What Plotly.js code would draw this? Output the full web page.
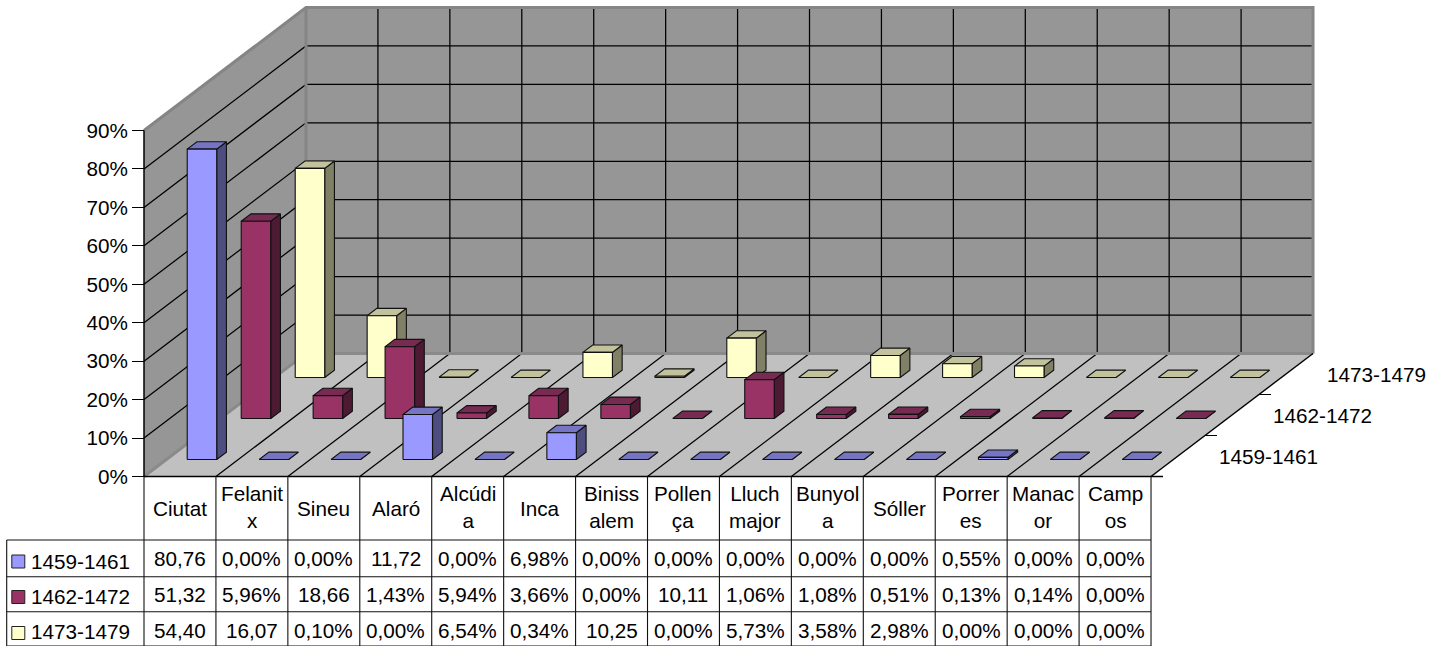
<!DOCTYPE html>
<html><head><meta charset="utf-8">
<script src="https://cdn.plot.ly/plotly-3.0.1.min.js"></script>
<style>html,body{margin:0;padding:0;background:#fff;overflow:hidden}</style>
</head><body><div id="chart" style="width:1444px;height:646px"></div>
<script>
const categories = ['Ciutat','Felanit<br>x','Sineu','Alaró','Alcúdi<br>a','Inca','Biniss<br>alem','Pollen<br>ça','Lluch<br>major','Bunyol<br>a','Sóller','Porrer<br>es','Manac<br>or','Camp<br>os'];
const seriesNames = ['1459-1461','1462-1472','1473-1479'];
const v1459 = [80.76,0,0,11.72,0,6.98,0,0,0,0,0,0.55,0,0];
const v1462 = [51.32,5.96,18.66,1.43,5.94,3.66,0,10.11,1.06,1.08,0.51,0.13,0.14,0];
const v1473 = [54.40,16.07,0.10,0,6.54,0.34,10.25,0,5.73,3.58,2.98,0,0,0];
const yTicks = [0,10,20,30,40,50,60,70,80,90];
const frontColors = ['#9999FF','#993366','#FFFFCC'];
const topColors = ['#7575C4','#772A52','#C2C29C'];
const sideColors = ['#4D4D80','#4D1A33','#808066'];

const W=1444,H=646,CW=71.93,VU=3.844,X0=144,Y0=476.5;
const DX=162/CW,DY=123/VU;
const allVals=[v1459,v1462,v1473];
const P=(c,d,v)=>[c+d*DX,v+d*DY];
const yOf=px=>(Y0-px)/VU, xOf=px=>(px-X0)/CW;
const traces=[];
function poly(pts,fill,line,width){
  traces.push({type:'scatter',mode:'lines',x:pts.map(p=>p?p[0]:null),y:pts.map(p=>p?p[1]:null),
    fill:fill?'toself':'none',fillcolor:fill||undefined,line:{color:line||'rgba(0,0,0,0)',width:width===undefined?1:width},
    hoverinfo:'skip',showlegend:false,connectgaps:false});
}
function seg(list,color,width){const pts=[];list.forEach(l=>{pts.push(...l,null)});poly(pts,null,color,width);}
// walls and floor
poly([P(0,0,0),P(0,1,0),P(0,1,90),P(0,0,90),P(0,0,0)],'#969696',null,0);
poly([P(0,1,0),P(14,1,0),P(14,1,90),P(0,1,90),P(0,1,0)],'#969696',null,0);
poly([P(0,0,0),P(14,0,0),P(14,1,0),P(0,1,0),P(0,0,0)],'#C0C0C0',null,0);
// gridlines
const hg=[],fg=[];
yTicks.slice(1,-1).forEach(t=>{hg.push([P(0,0,t),P(0,1,t),P(14,1,t)]);});
for(let k=1;k<14;k++){hg.push([P(k,1,0),P(k,1,90)]);fg.push([P(k,0,0),P(k,1,0)]);}
seg(hg.concat(fg),'#000',1.25);
// wall edges
seg([[P(0,0,90),P(0,1,90),P(14,1,90),P(14,1,0)],[P(0,1,0),P(0,1,90)]],'#858585',3);
seg([[P(0,0,0),P(0,1,0),P(14,1,0)]],'#8A8A8A',3);
// axes lines
seg([[P(0,0,0),P(0,0,90)],[P(0,0,0),P(14+12/CW,0,0)],[P(14,0,0),P(14,1,0)]],'#000',1.5);
seg([1/3,2/3].map(d=>[P(14,d,0),P(14+12/CW,d,0)]),'#000',1);
// bars, back to front
for(let s=2;s>=0;s--){
  const d0=0.138+s/3,d1=d0+0.06,side=[],top=[],front=[];
  allVals[s].forEach((v,i)=>{
    const a=i+0.29,b=a+0.41;
    side.push(P(b,d0,0),P(b,d1,0),P(b,d1,v),P(b,d0,v),P(b,d0,0),null);
    top.push(P(a,d0,v),P(b,d0,v),P(b,d1,v),P(a,d1,v),P(a,d0,v),null);
    front.push(P(a,d0,0),P(b,d0,0),P(b,d0,v),P(a,d0,v),P(a,d0,0),null);
  });
  poly(side,sideColors[s],'#111',1.1);
  poly(top,topColors[s],'#111',1.1);
  poly(front,frontColors[s],'#111',1.1);
}
// data table grid
const rows=[476.5,540,576.7,611.7,646];
const tg=[];
for(let k=0;k<=14;k++)tg.push([[k,yOf(476.5)],[k,yOf(646)]]);
tg.push([[xOf(6.7),yOf(540)],[xOf(6.7),yOf(646)]]);
rows.slice(1).forEach(r=>tg.push([[xOf(6.7),yOf(r)],[14,yOf(r)]]));
seg(tg,'#111',1.1);
// legend keys
seriesNames.forEach((n,s)=>{
  traces.push({type:'scatter',mode:'markers',name:n,x:[xOf(18.3)],y:[yOf([561.5,597,633][s])],
    marker:{symbol:'square',size:13,color:frontColors[s],line:{color:'#222',width:1}},hoverinfo:'skip',showlegend:false});
});
const font={family:'"Liberation Sans",Arial,sans-serif',size:20.7,color:'#000'};
const ann=[];
const text=(x,y,t,anchor)=>ann.push({xref:'x',yref:'y',x,y,text:t,showarrow:false,xanchor:anchor||'center',yanchor:'middle',align:'center',font,borderpad:0});
categories.forEach((c,i)=>text(i+0.5,yOf(c.includes('<br>')?507:508.5),c));
const fmt=v=>{const s=v.toFixed(2).replace('.',',');return v>=10?s:s+'%';};
const rowY=[558,594,630.7],keyY=[561,596.7,631.7];
allVals.forEach((vals,s)=>{
  vals.forEach((v,i)=>text(i+0.5,yOf(rowY[s]),fmt(v)));
  text(xOf(29.5),yOf(keyY[s]),seriesNames[s],'left');
  const q=P(14+90.5/CW,1/6+s/3,0);
  text(q[0],q[1],seriesNames[s]);
});
const layout={width:W,height:H,margin:{l:0,r:0,t:0,b:0},paper_bgcolor:'#fff',plot_bgcolor:'rgba(0,0,0,0)',showlegend:false,
  xaxis:{range:[xOf(0),xOf(W)],visible:false,fixedrange:true},
  yaxis:{range:[yOf(H),yOf(0)],anchor:'free',position:X0/W,side:'left',tickmode:'array',tickvals:yTicks,ticktext:yTicks.map(t=>t+'%'),
    ticks:'outside',ticklen:12,tickwidth:1,tickcolor:'#000',showgrid:false,zeroline:false,showline:false,tickfont:font,fixedrange:true},
  annotations:ann};
Plotly.newPlot('chart',traces,layout,{staticPlot:true,displayModeBar:false});
</script></body></html>
